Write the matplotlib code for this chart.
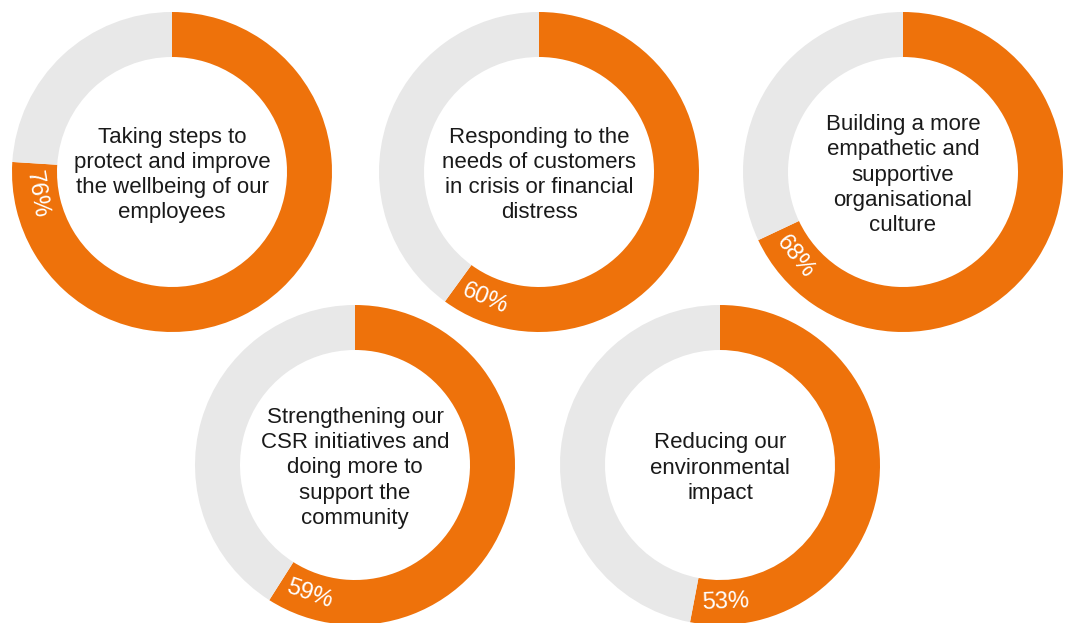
import numpy as np
import matplotlib
matplotlib.use("Agg")
import matplotlib.pyplot as plt

# ---------------- data -----------------------
labels = [
    "Taking steps to\nprotect and improve\nthe wellbeing of our\nemployees",
    "Responding to the\nneeds of customers\nin crisis or financial\ndistress",
    "Building a more\nempathetic and\nsupportive\norganisational\nculture",
    "Strengthening our\nCSR initiatives and\ndoing more to\nsupport the\ncommunity",
    "Reducing our\nenvironmental\nimpact",
]
shares = [76, 60, 68, 59, 53]
# ------------------------------------------------

ORANGE = "#EE720B"
GREY = "#E8E8E8"
W, H = 1073, 623

# ring centres in pixel space (y measured upwards)
centres = [(172, 451), (539, 451), (903, 451), (355, 158), (720, 158)]
r_out, r_width = 160, 45

fig = plt.figure(figsize=(W / 100, H / 100), dpi=100)
ax = fig.add_axes([0, 0, 1, 1])

for (cx, cy), text, pct in zip(centres, labels, shares):
    ax.pie([pct, 100 - pct], colors=[ORANGE, GREY], startangle=90,
           counterclock=False, center=(cx, cy), radius=r_out,
           wedgeprops=dict(width=r_width, linewidth=0), frame=True)
    ax.text(cx, cy - 3, text, ha="center", va="center", fontsize=16,
            color="#1a1a1a", linespacing=1.27, family="Liberation Sans")

    # percentage label just inside the end of the orange arc
    clock = pct / 100 * 360 - 13
    theta = np.deg2rad(90 - clock)
    r_mid = r_out - r_width / 2
    rot = np.rad2deg(theta) + 90
    ax.text(cx + r_mid * np.cos(theta), cy + r_mid * np.sin(theta), f"{pct}%",
            ha="center", va="center", rotation=rot, rotation_mode="anchor",
            fontsize=17, color="white", family="Liberation Sans")

ax.set_xlim(0, W)
ax.set_ylim(0, H)
ax.set_aspect("equal")
ax.axis("off")
fig.savefig("out.png", dpi=100)
